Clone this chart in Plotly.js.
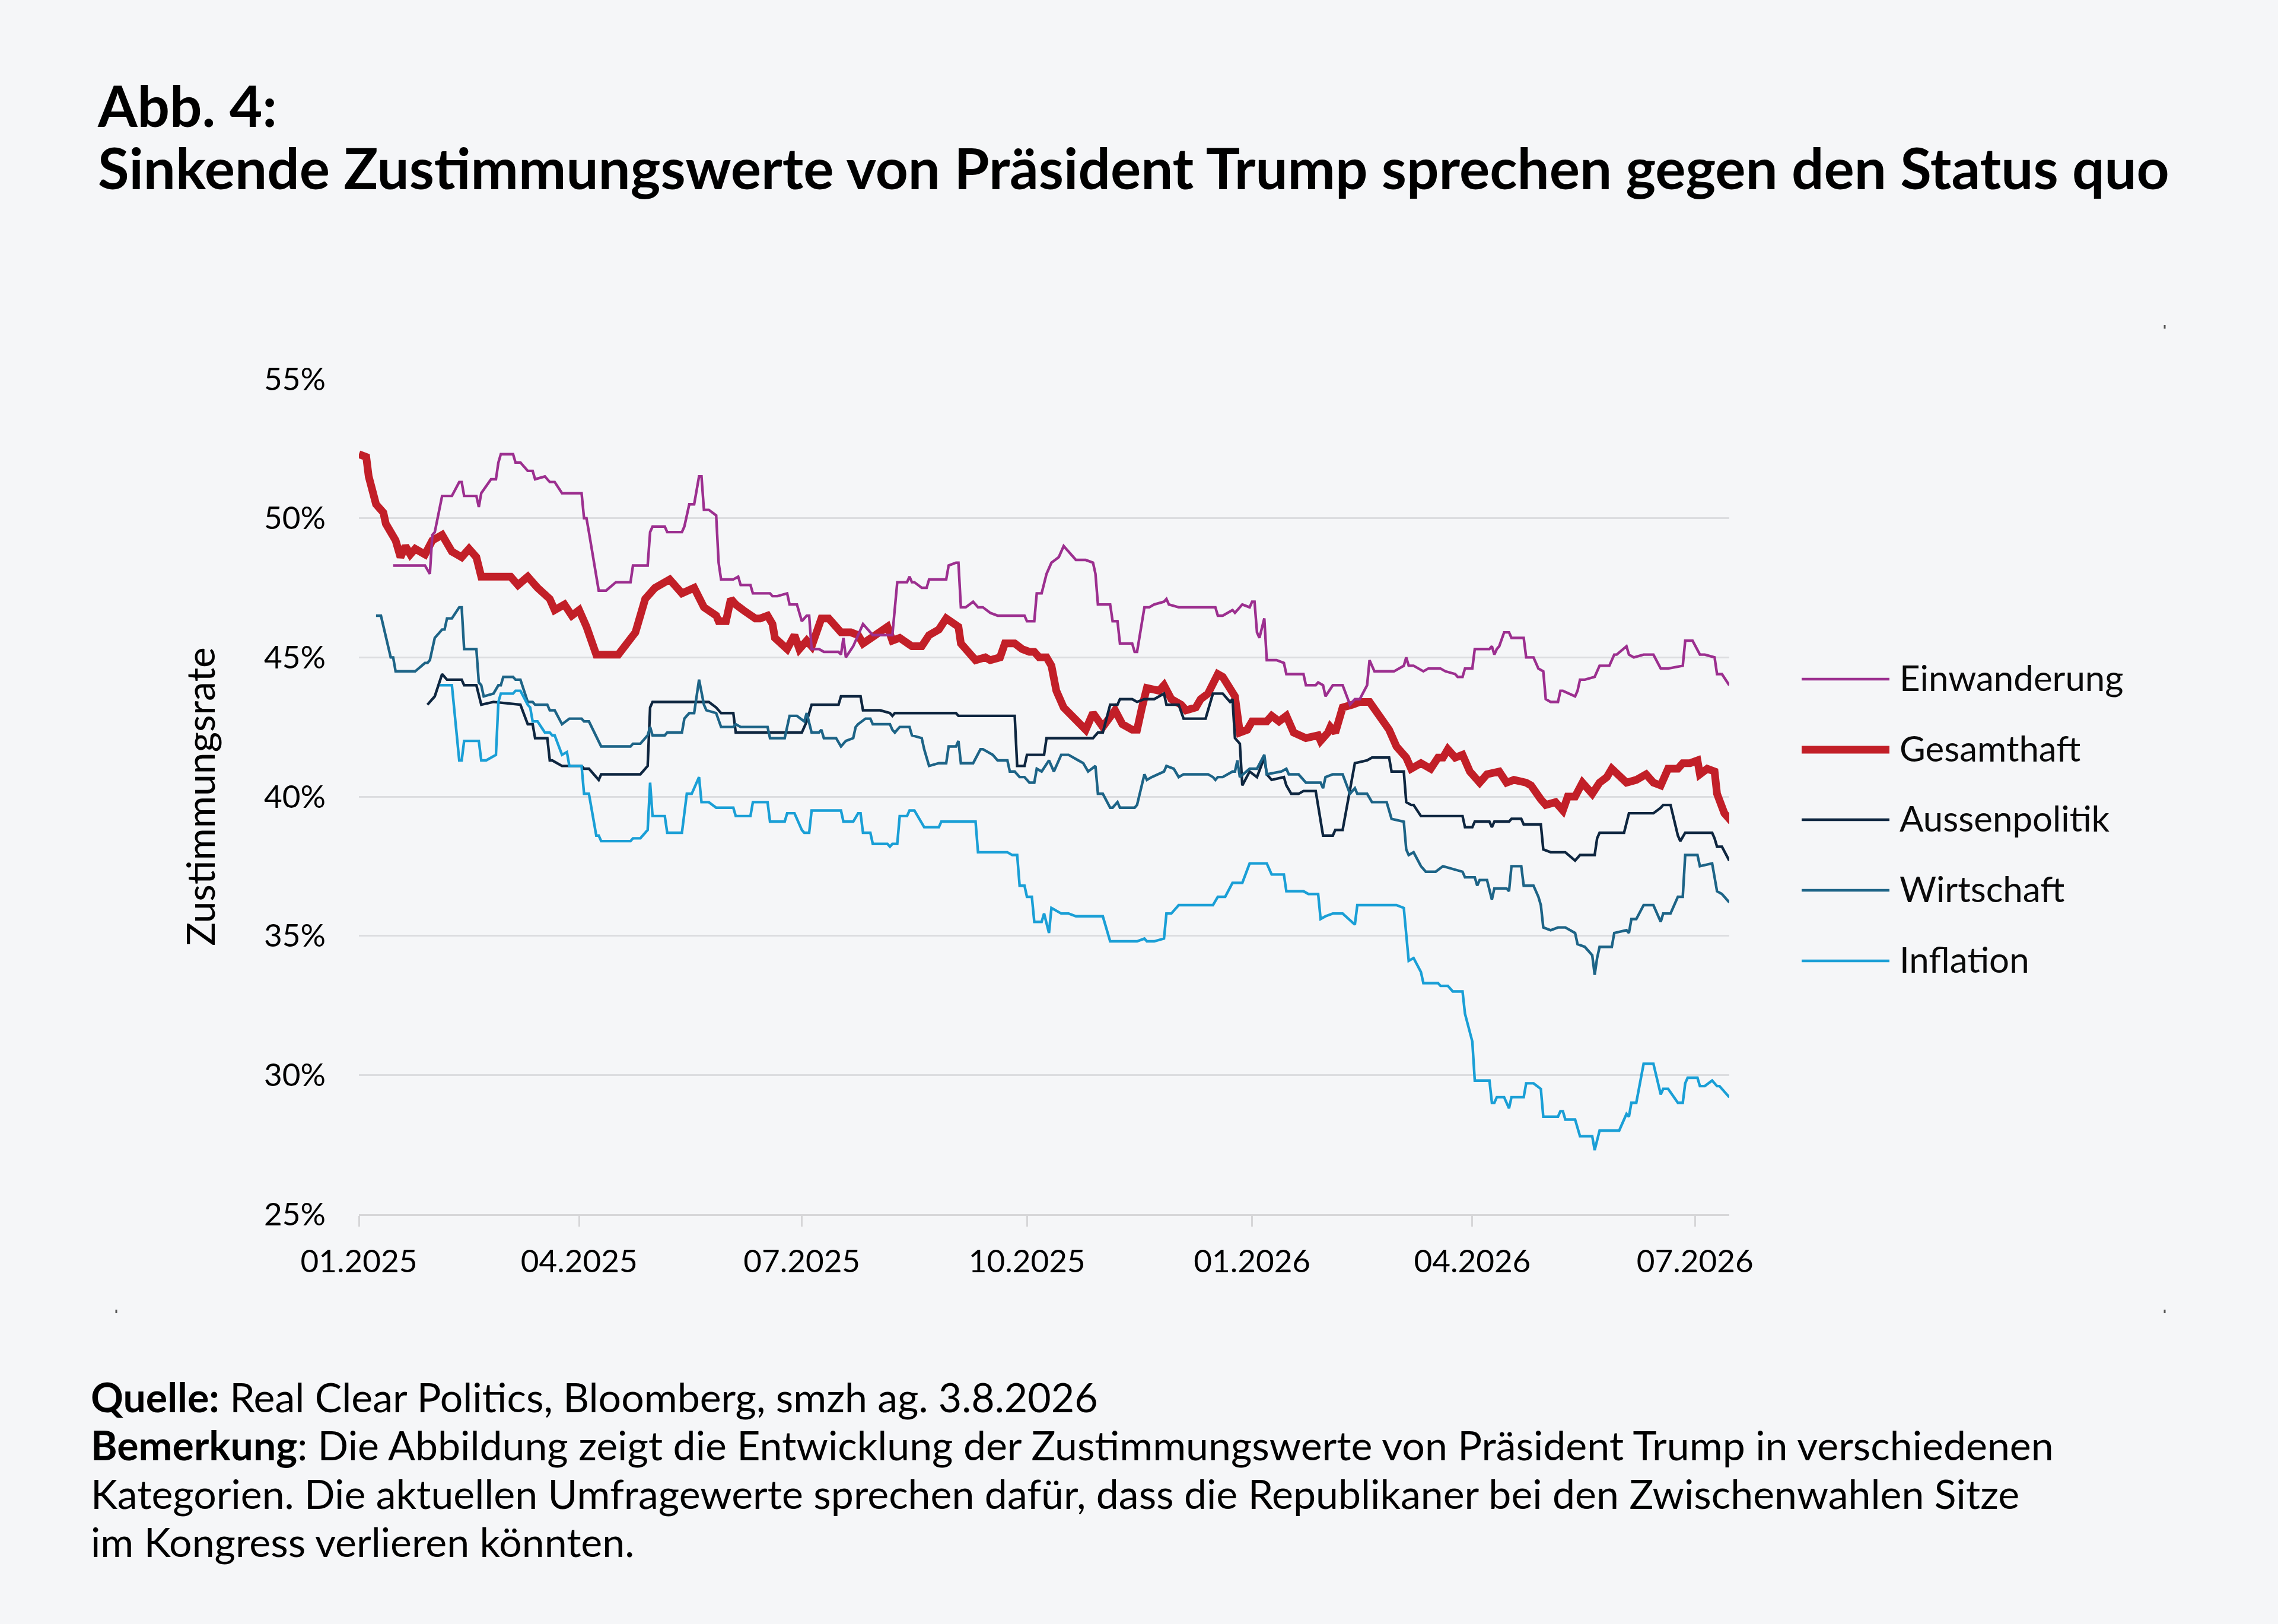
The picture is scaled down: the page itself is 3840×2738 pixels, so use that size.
<!DOCTYPE html>
<html>
<head>
<meta charset="utf-8">
<script src="https://cdn.plot.ly/plotly-3.0.1.min.js"></script>
<style>
html,body{margin:0;padding:0;background:#f5f6f8;}
#chart{width:3840px;height:2738px;}
</style>
</head>
<body>
<div id="chart"></div>
<script>
// ---- DATA (days since 2025-01-01, approval in %) ----
const seriesNames = ['Einwanderung','Gesamthaft','Aussenpolitik','Wirtschaft','Inflation'];
const seriesColors = ['#9c2f8f','#c21f28','#0e2640','#1d6487','#1a9fd6'];

const einwDays = [14,27,29,30,31,34,38,41,42,43,48,49,50,54,56,57,58,63,64,66,69,71,72,76,78,80,83,91,92,93,94,98,101,105,111,112,118,119,120,125,126,132,133,135,137,139,140,141,143,146,147,148,153,155,156,160,161,168,169,171,175,176,179,181,183,184,185,188,190,196,197,198,199,202,206,210,218,220,224,225,226,227,230,232,233,240,241,244,245,246,248,251,253,255,258,261,272,273,276,277,279,281,283,286,288,290,293,297,300,301,302,307,308,310,311,316,317,318,321,323,325,329,330,331,335,350,351,353,357,358,361,364,365,366,367,368,370,371,375,378,379,386,387,391,392,394,395,398,402,405,407,409,412,413,415,423,427,428,429,431,435,437,442,444,448,449,451,452,455,456,462,463,464,465,466,468,470,471,476,477,480,482,484,485,487,490,491,492,497,498,499,501,505,507,511,513,514,518,519,521,525,529,532,535,541,542,545,548,550,554,555,557,560];
const einwVals = [48.3,48.3,48.0,49.4,49.5,50.8,50.8,51.3,51.3,50.8,50.8,50.4,50.9,51.4,51.4,52.0,52.3,52.3,52.0,52.0,51.7,51.7,51.4,51.5,51.3,51.3,50.9,50.9,50.0,50.0,49.5,47.4,47.4,47.7,47.7,48.3,48.3,49.5,49.7,49.7,49.5,49.5,49.7,50.5,50.5,51.5,51.5,50.3,50.3,50.1,48.4,47.8,47.8,47.9,47.6,47.6,47.3,47.3,47.2,47.2,47.3,46.9,46.9,46.3,46.5,46.5,45.3,45.3,45.2,45.2,45.1,45.7,45.0,45.4,46.2,45.8,45.8,47.7,47.7,47.9,47.7,47.7,47.5,47.5,47.8,47.8,48.3,48.4,48.4,46.8,46.8,47.0,46.8,46.8,46.6,46.5,46.5,46.3,46.3,47.3,47.3,48.0,48.4,48.6,49.0,48.8,48.5,48.5,48.4,48.0,46.9,46.9,46.3,46.3,45.5,45.5,45.2,45.2,46.8,46.8,46.9,47.0,47.1,46.9,46.8,46.8,46.5,46.5,46.7,46.6,46.9,46.8,47.0,47.0,45.9,45.7,46.4,44.9,44.9,44.8,44.4,44.4,44.0,44.0,44.1,44.0,43.6,44.0,44.0,43.3,43.5,43.5,44.0,44.9,44.5,44.5,44.7,45.0,44.7,44.7,44.5,44.6,44.6,44.5,44.4,44.3,44.3,44.6,44.6,45.3,45.3,45.4,45.1,45.3,45.4,45.9,45.9,45.7,45.7,45.0,45.0,44.6,44.5,43.5,43.4,43.4,43.8,43.8,43.6,43.8,44.2,44.2,44.3,44.7,44.7,45.1,45.1,45.4,45.1,45.0,45.1,45.1,44.6,44.6,44.7,45.6,45.6,45.1,45.1,45.0,44.4,44.4,44.0];

const gesDays = [0,3,4,7,10,11,15,17,19,21,23,27,30,34,38,42,45,48,50,62,65,69,73,78,80,84,87,90,93,97,106,113,117,121,127,132,137,139,141,146,147,150,152,154,156,157,162,164,167,169,170,175,178,180,183,185,189,192,197,201,204,206,211,216,218,221,226,230,233,237,240,245,246,248,252,256,258,262,264,268,271,274,276,278,281,283,285,288,291,294,297,300,303,304,309,312,316,318,320,322,327,329,332,336,338,342,344,347,351,353,358,360,363,365,371,373,376,379,382,387,392,393,396,397,399,402,406,409,413,417,421,424,428,430,434,438,441,443,445,448,451,454,458,461,464,466,469,472,477,479,483,485,489,492,494,497,500,504,507,510,512,515,518,522,526,529,532,535,539,541,544,547,548,551,554,555,558,561];
const gesVals = [52.3,52.2,51.5,50.5,50.2,49.8,49.2,48.6,49.0,48.7,48.9,48.7,49.2,49.4,48.8,48.6,48.9,48.6,47.9,47.9,47.6,47.9,47.5,47.1,46.7,46.9,46.5,46.7,46.1,45.1,45.1,45.9,47.1,47.5,47.8,47.3,47.5,47.2,46.8,46.5,46.3,46.3,47.1,46.9,46.8,46.7,46.4,46.4,46.5,46.2,45.7,45.3,45.8,45.3,45.6,45.4,46.4,46.4,45.9,45.9,45.8,45.5,45.8,46.1,45.6,45.7,45.4,45.4,45.8,46.0,46.4,46.1,45.5,45.3,44.9,45.0,44.9,45.0,45.5,45.5,45.3,45.2,45.2,45.0,45.0,44.7,43.8,43.2,42.9,42.7,42.4,43.0,42.7,42.5,43.1,42.6,42.4,42.4,43.2,43.9,43.8,44.0,43.5,43.3,43.1,43.2,43.5,43.7,44.4,44.3,43.6,42.3,42.4,42.7,42.7,42.9,42.7,42.9,42.3,42.1,42.2,42.0,42.3,42.5,42.3,43.2,43.3,43.4,43.4,42.9,42.4,41.8,41.4,41.0,41.2,41.0,41.4,41.4,41.7,41.4,41.5,40.9,40.5,40.8,40.9,40.9,40.5,40.6,40.5,40.4,39.9,39.7,39.8,39.5,40.0,40.0,40.5,40.1,40.5,40.7,41.0,40.7,40.5,40.6,40.8,40.5,40.4,41.0,41.0,41.2,41.2,41.3,40.8,41.0,40.9,40.1,39.4,39.1];

const ausDays = [28,31,34,36,42,43,48,50,55,66,69,71,72,77,78,79,83,91,92,94,98,99,115,118,119,120,143,146,148,153,154,181,183,185,196,197,205,206,213,217,218,219,244,245,268,269,272,273,280,281,300,302,304,307,310,311,316,318,321,325,329,330,335,337,346,349,353,356,357,358,360,361,364,367,370,371,373,378,379,381,384,386,391,393,394,398,399,402,407,412,414,421,422,427,428,430,431,434,443,451,452,455,456,458,462,463,464,470,471,475,476,483,484,487,493,497,499,505,506,507,517,519,529,532,533,536,539,540,542,553,554,555,557,560];
const ausVals = [43.3,43.6,44.4,44.2,44.2,44.0,44.0,43.3,43.4,43.3,42.6,42.6,42.1,42.1,41.3,41.3,41.1,41.1,41.0,41.0,40.6,40.8,40.8,41.1,43.2,43.4,43.4,43.2,43.0,43.0,42.3,42.3,42.7,43.3,43.3,43.6,43.6,43.1,43.1,43.0,42.9,43.0,43.0,42.9,42.9,41.1,41.1,41.5,41.5,42.1,42.1,42.3,42.3,43.3,43.3,43.5,43.5,43.4,43.5,43.5,43.7,43.3,43.3,42.8,42.8,43.7,43.7,43.4,43.5,42.1,41.9,40.4,40.9,40.7,41.4,40.8,40.6,40.7,40.4,40.1,40.1,40.2,40.2,39.2,38.6,38.6,38.8,38.8,41.2,41.3,41.4,41.4,40.9,40.9,39.8,39.7,39.7,39.3,39.3,39.3,38.9,38.9,39.1,39.1,39.1,38.9,39.1,39.1,39.2,39.2,39.0,39.0,38.1,38.0,38.0,37.7,37.9,37.9,38.5,38.7,38.7,39.4,39.4,39.6,39.7,39.7,38.6,38.4,38.7,38.7,38.5,38.2,38.2,37.7];

const wirDays = [7,9,13,14,15,23,27,28,29,31,34,35,36,38,41,42,43,48,49,50,51,55,57,58,59,63,64,66,69,71,72,77,78,80,83,86,91,92,94,99,111,112,115,118,119,120,125,126,132,133,135,137,139,141,142,146,148,153,154,156,160,167,168,174,176,179,182,183,185,188,189,190,195,197,199,202,203,204,207,209,210,217,218,219,221,225,226,230,231,233,237,240,241,244,245,246,251,254,255,259,261,265,266,268,270,272,274,276,277,279,282,284,287,290,294,296,298,301,302,304,307,308,310,311,317,318,321,322,324,329,330,333,335,337,347,349,350,351,353,357,358,359,360,364,367,370,371,377,379,380,384,386,387,393,394,395,398,402,405,407,408,412,414,420,422,427,428,429,431,434,436,440,443,451,452,456,457,458,461,463,464,469,470,471,475,476,480,482,483,484,487,490,493,497,498,501,504,505,506,507,512,513,518,519,520,522,525,529,532,533,536,539,541,542,547,548,553,555,557,560];
const wirVals = [46.5,46.5,45.0,45.0,44.5,44.5,44.8,44.8,44.9,45.7,46.0,46.0,46.4,46.4,46.8,46.8,45.3,45.3,44.1,44.0,43.6,43.7,44.0,44.0,44.3,44.3,44.2,44.2,43.4,43.4,43.3,43.3,43.1,43.1,42.6,42.8,42.8,42.7,42.7,41.8,41.8,41.9,41.9,42.2,42.5,42.2,42.2,42.3,42.3,42.8,43.0,43.0,44.2,43.3,43.1,43.0,42.5,42.5,42.6,42.5,42.5,42.5,42.1,42.1,42.9,42.9,42.7,43.0,42.3,42.3,42.4,42.1,42.1,41.8,42.0,42.1,42.5,42.6,42.8,42.8,42.6,42.6,42.4,42.3,42.5,42.5,42.2,42.1,41.7,41.1,41.2,41.2,41.8,41.8,42.0,41.2,41.2,41.7,41.7,41.5,41.3,41.3,40.9,40.9,40.7,40.7,40.5,40.5,41.0,40.9,41.3,40.9,41.5,41.5,41.3,41.2,40.9,41.1,40.1,40.1,39.6,39.6,39.8,39.6,39.6,39.7,40.8,40.6,40.7,40.9,41.1,41.0,40.7,40.8,40.8,40.7,40.6,40.7,40.7,40.9,40.9,41.3,40.7,41.0,41.0,41.5,40.8,40.9,41.0,40.8,40.8,40.6,40.5,40.5,40.3,40.7,40.8,40.8,40.1,40.3,40.1,40.1,39.8,39.8,39.2,39.1,38.1,37.9,38.0,37.5,37.3,37.3,37.5,37.3,37.1,37.1,36.8,37.0,37.0,36.3,36.7,36.7,36.6,37.5,37.5,36.8,36.8,36.4,36.1,35.3,35.2,35.3,35.3,35.1,34.7,34.6,34.3,33.6,34.2,34.6,34.6,35.1,35.2,35.1,35.6,35.6,36.1,36.1,35.5,35.8,35.8,36.4,36.4,37.9,37.9,37.5,37.6,36.6,36.5,36.2];

const infDays = [33,38,41,42,43,49,50,52,56,57,58,63,64,66,69,70,71,73,76,78,79,80,83,85,86,91,92,94,97,98,99,111,112,115,118,119,120,125,126,132,134,136,139,140,143,146,153,154,160,161,167,168,174,175,178,181,182,184,185,197,198,202,204,205,206,209,210,216,217,218,220,221,224,225,227,231,233,237,238,244,246,252,253,265,267,269,270,272,273,275,276,279,280,282,283,287,290,293,304,307,318,321,322,325,329,330,332,335,349,351,354,357,361,364,371,373,378,379,386,388,392,393,395,398,402,406,407,408,424,427,428,429,431,434,435,441,442,445,447,451,452,455,456,462,463,464,465,468,470,471,476,477,480,483,484,490,491,492,493,497,499,504,505,507,515,518,519,520,522,525,529,532,533,535,539,541,542,543,547,548,550,553,555,556,560];
const infVals = [44.0,44.0,41.3,41.3,42.0,42.0,41.3,41.3,41.5,43.4,43.7,43.7,43.8,43.8,43.3,43.2,42.7,42.7,42.3,42.3,42.2,42.2,41.5,41.6,41.1,41.1,40.1,40.1,38.6,38.6,38.4,38.4,38.5,38.5,38.8,40.5,39.3,39.3,38.7,38.7,40.1,40.1,40.7,39.8,39.8,39.6,39.6,39.3,39.3,39.8,39.8,39.1,39.1,39.4,39.4,38.8,38.7,38.7,39.5,39.5,39.1,39.1,39.4,39.4,38.7,38.7,38.3,38.3,38.2,38.3,38.3,39.3,39.3,39.5,39.5,38.9,38.9,38.9,39.1,39.1,39.1,39.1,38.0,38.0,37.9,37.9,36.8,36.8,36.4,36.4,35.5,35.5,35.8,35.1,36.0,35.8,35.8,35.7,35.7,34.8,34.8,34.9,34.8,34.8,34.9,35.8,35.8,36.1,36.1,36.4,36.4,36.9,36.9,37.6,37.6,37.2,37.2,36.6,36.6,36.5,36.5,35.6,35.7,35.8,35.8,35.5,35.4,36.1,36.1,36.0,35.1,34.1,34.2,33.7,33.3,33.3,33.2,33.2,33.0,33.0,32.2,31.2,29.8,29.8,29.0,29.0,29.2,29.2,28.8,29.2,29.2,29.7,29.7,29.5,28.5,28.5,28.7,28.7,28.4,28.4,27.8,27.8,27.3,28.0,28.0,28.6,28.5,29.0,29.0,30.4,30.4,29.3,29.5,29.5,29.0,29.0,29.7,29.9,29.9,29.6,29.6,29.8,29.6,29.6,29.2];

const yTickVals = [25,30,35,40,45,50,55];
const yTickText = ['25%','30%','35%','40%','45%','50%','55%'];

// ---- helpers ----
const BASE = Date.UTC(2025,0,1);
function toDate(d){ return new Date(BASE + d*86400000).toISOString().slice(0,10); }

const W = 3840, H = 2738;
const M = {l:605, r:925, t:639, b:691};
const PW = W - M.l - M.r, PH = H - M.t - M.b;
function px(X){ return (X - M.l)/PW; }
function py(Y){ return (H - M.b - Y)/PH; }

const all = [
  {name:seriesNames[0], d:einwDays, v:einwVals, c:seriesColors[0], w:4.4},
  {name:seriesNames[1], d:gesDays,  v:gesVals,  c:seriesColors[1], w:13},
  {name:seriesNames[2], d:ausDays,  v:ausVals,  c:seriesColors[2], w:4.4},
  {name:seriesNames[3], d:wirDays,  v:wirVals,  c:seriesColors[3], w:4.4},
  {name:seriesNames[4], d:infDays,  v:infVals,  c:seriesColors[4], w:4.4}
];
const drawOrder = [1,0,2,3,4];
const traces = drawOrder.map(i => ({
  type:'scatter', mode:'lines', name:all[i].name,
  x: all[i].d.map(toDate), y: all[i].v,
  line:{color:all[i].c, width:all[i].w, shape:'linear'},
  showlegend:false, hoverinfo:'skip'
}));

// custom legend
const legY = [1145,1264,1382,1501,1620];
const shapes = [];
const annotations = [];
all.forEach((s,i)=>{
  shapes.push({type:'line', xref:'paper', yref:'paper', x0:px(3037), x1:px(3185), y0:py(legY[i]), y1:py(legY[i]),
    line:{color:s.c, width:s.w}});
  annotations.push({xref:'paper', yref:'paper', x:px(3200), y:py(legY[i]-3), xanchor:'left', yanchor:'middle',
    text:s.name, showarrow:false, font:{family:'Lato', size:60, color:'#0a0a0a'}});
});

// corner marks
[[3649,551],[196,2211],[3649,2211]].forEach(p=>{
  shapes.push({type:'rect', xref:'paper', yref:'paper', xsizemode:'pixel', ysizemode:'pixel',
    xanchor:px(p[0]), yanchor:py(p[1]), x0:-1.5, x1:1.5, y0:-3, y1:3,
    fillcolor:'#555', line:{width:0}});
});

// footer
function big(t){ return '<span style="font-size:68px">' + t + '</span>'; }
annotations.push({xref:'paper', yref:'paper', x:px(151), y:py(2312), xanchor:'left', yanchor:'top', align:'left',
  showarrow:false, font:{family:'Lato', size:62.5, color:'#000'},
  text: big('<b>Quelle:</b> Real Clear Politics, Bloomberg, smzh ag. 3.8.2026') + '<br>' +
        big('<b>Bemerkung</b>: Die Abbildung zeigt die Entwicklung der Zustimmungswerte von Präsident Trump in verschiedenen') + '<br>' +
        big('Kategorien. Die aktuellen Umfragewerte sprechen dafür, dass die Republikaner bei den Zwischenwahlen Sitze') + '<br>' +
        big('im Kongress verlieren könnten.')});

function bigT(t){ return '<span style="font-size:96px"><b>' + t + '</b></span>'; }
const layout = {
  width:W, height:H,
  paper_bgcolor:'#f5f6f8', plot_bgcolor:'#f5f6f8',
  margin:M,
  font:{family:'Lato', color:'#000'},
  title:{
    text: bigT('Abb. 4:') + '<br>' + bigT('Sinkende Zustimmungswerte von Präsident Trump sprechen gegen den Status quo'),
    font:{family:'Lato', size:81, color:'#000'},
    xref:'container', yref:'container', x:165/W, xanchor:'left', y:1-214/H, yanchor:'top'
  },
  xaxis:{
    type:'date', range:[toDate(0), toDate(560)],
    tick0:'2025-01-01', dtick:'M3', tickformat:'%m.%Y',
    ticks:'outside', ticklen:18, tickwidth:3, tickcolor:'#d6d6d8',
    showline:true, linecolor:'#d6d6d8', linewidth:3,
    showgrid:false, zeroline:false,
    tickfont:{family:'Lato', size:53, color:'#000'}, ticklabelstandoff:13
  },
  yaxis:{
    range:[25,55], tickvals:yTickVals, ticktext:yTickText,
    ticks:'', showline:false, zeroline:false,
    showgrid:true, gridcolor:'#dcdde0', gridwidth:3,
    tickfont:{family:'Lato', size:53, color:'#000'}, ticklabelstandoff:55,
    title:{text:'Zustimmungsrate', font:{family:'Lato', size:66, color:'#000'}, standoff:60}
  },
  shapes:shapes,
  annotations:annotations
};

Plotly.newPlot('chart', traces, layout, {staticPlot:true, displayModeBar:false});
</script>
</body>
</html>
